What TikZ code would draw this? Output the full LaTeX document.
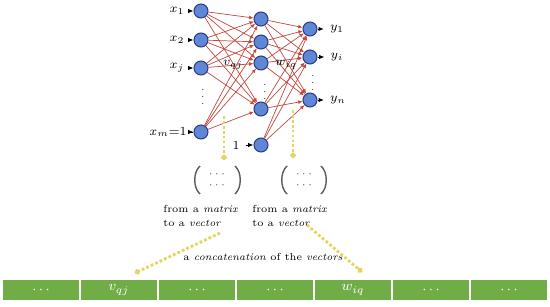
\documentclass[tikz,border=0pt]{standalone}
\usetikzlibrary{arrows.meta}
\definecolor{linkred}{RGB}{196,72,62}
\definecolor{neuronblue}{RGB}{95,135,215}
\definecolor{neuronedge}{RGB}{45,60,120}
\definecolor{hintyellow}{RGB}{225,215,95}
\definecolor{cellgreen}{RGB}{112,173,71}
\definecolor{bracketgray}{RGB}{90,90,90}
\begin{document}
\begin{tikzpicture}[x=0.02cm,y=-0.02cm,>=latex,font=\scriptsize,
  neuron/.style={circle,draw=neuronedge,fill=neuronblue,line width=0.6pt,minimum size=0.28cm,inner sep=0pt},
  link/.style={-{Latex[length=2.5pt,width=2.2pt]},draw=linkred,line width=0.4pt},
  feed/.style={-{Latex[length=3pt,width=2.5pt]},line width=0.5pt},
  dots/.style={inner sep=0pt,font=\fontsize{5}{5}\selectfont},
  note/.style={anchor=north west,align=left,inner sep=0pt,font=\fontsize{5.8}{7.9}\selectfont},
  hint/.style={-{Circle[length=3pt]},draw=hintyellow,line width=1.6pt,dash pattern=on 1.6pt off 1.2pt},
  cell/.style={rectangle,fill=cellgreen,draw=white,line width=0.8pt,minimum width=1.56cm,minimum height=0.44cm,text=white,inner sep=0pt,font=\footnotesize},
  bracket/.style={draw=bracketgray,line width=0.8pt}]
\useasboundingbox (0,0) rectangle (550,307);
%%%%%%%%%%%%%%%% layers
\node[neuron] (i1) at (201,11) {};
\node[neuron] (i2) at (201,40) {};
\node[neuron] (i3) at (201,68) {};
\node[neuron] (i4) at (201,132) {};
\node[neuron] (h1) at (261,19) {};
\node[neuron] (h2) at (261,42) {};
\node[neuron] (h3) at (261,63) {};
\node[neuron] (h4) at (261,109) {};
\node[neuron] (h5) at (261,145) {};
\node[neuron] (o1) at (310,29) {};
\node[neuron] (o2) at (310,57) {};
\node[neuron] (o3) at (310,100) {};
\foreach \a in {i1,i2,i3,i4}
  \foreach \b in {h1,h2,h3,h4}
    \draw[link] (\a) -- (\b);
\foreach \a in {h1,h2,h3,h4,h5}
  \foreach \b in {o1,o2,o3}
    \draw[link] (\a) -- (\b);
%%%%%%%%%%%%%%%% inputs and outputs
\node (x1) at (177,11) {$x_1$};
\node (x2) at (177,40) {$x_2$};
\node (xj) at (177,68) {$x_j$};
\node (xm) at (168,132) {$x_m$=1};
\node (one) at (236,145) {1};
\foreach \a/\b in {x1/i1,x2/i2,xj/i3,xm/i4,one/h5}
  \draw[feed] (\a) -- (\b);
\node (y1) at (337,29) {$y_1$};
\node (yi) at (337,57) {$y_i$};
\node (yn) at (338,100) {$y_n$};
\foreach \a/\b in {o1/y1,o2/yi,o3/yn}
  \draw[feed] (\a) -- (\b);
\node[dots] (di) at (203,92) {$\vdots$};
\node[dots] (dh) at (265,87) {$\vdots$};
\node[dots] (do) at (313,78) {$\vdots$};
\node[inner sep=1pt] (v) at (233,65) {$v_{qj}$};
\node[inner sep=1pt] (w) at (286,65) {$w_{iq}$};
%%%%%%%%%%%%%%%% matrices
\node[dots] (m1) at (217,180) {\begin{tabular}{@{}c@{}}$\cdots$\\[1pt]$\cdots$\end{tabular}};
\node[dots] (m2) at (304,180) {\begin{tabular}{@{}c@{}}$\cdots$\\[1pt]$\cdots$\end{tabular}};
\draw[bracket] (200,166) .. controls (193,172) and (193,188) .. (200,194);
\draw[bracket] (235,166) .. controls (242,172) and (242,188) .. (235,194);
\draw[bracket] (287,166) .. controls (280,172) and (280,188) .. (287,194);
\draw[bracket] (321,166) .. controls (328,172) and (328,188) .. (321,194);
\node[note] (t1) at (163,205) {from a \emph{matrix}\\to a \emph{vector}};
\node[note] (t2) at (252,205) {from a \emph{matrix}\\to a \emph{vector}};
\node[note,anchor=center] (cat) at (263,257) {a \emph{concatenation} of the \emph{vectors}};
%%%%%%%%%%%%%%%% the long vector
\foreach \n/\t [count=\k from 0] in {c1/$\cdots$,c2/$v_{qj}$,c3/$\cdots$,c4/$\cdots$,c5/$w_{iq}$,c6/$\cdots$,c7/$\cdots$}
  \node[cell] (\n) at (41+78*\k,290) {\t};
%%%%%%%%%%%%%%%% hints
\coordinate (a1) at (224,116);
\coordinate (a2) at (224,160);
\coordinate (b1) at (293,110);
\coordinate (b2) at (293,158);
\coordinate (c1s) at (220,233);
\coordinate (c1e) at (135,273);
\coordinate (c2s) at (307,225);
\coordinate (c2e) at (362,272);
\draw[hint] (a1) -- (a2);
\draw[hint] (b1) -- (b2);
\draw[hint] (c1s) -- (c1e);
\draw[hint] (c2s) -- (c2e);
\end{tikzpicture}
\end{document}
